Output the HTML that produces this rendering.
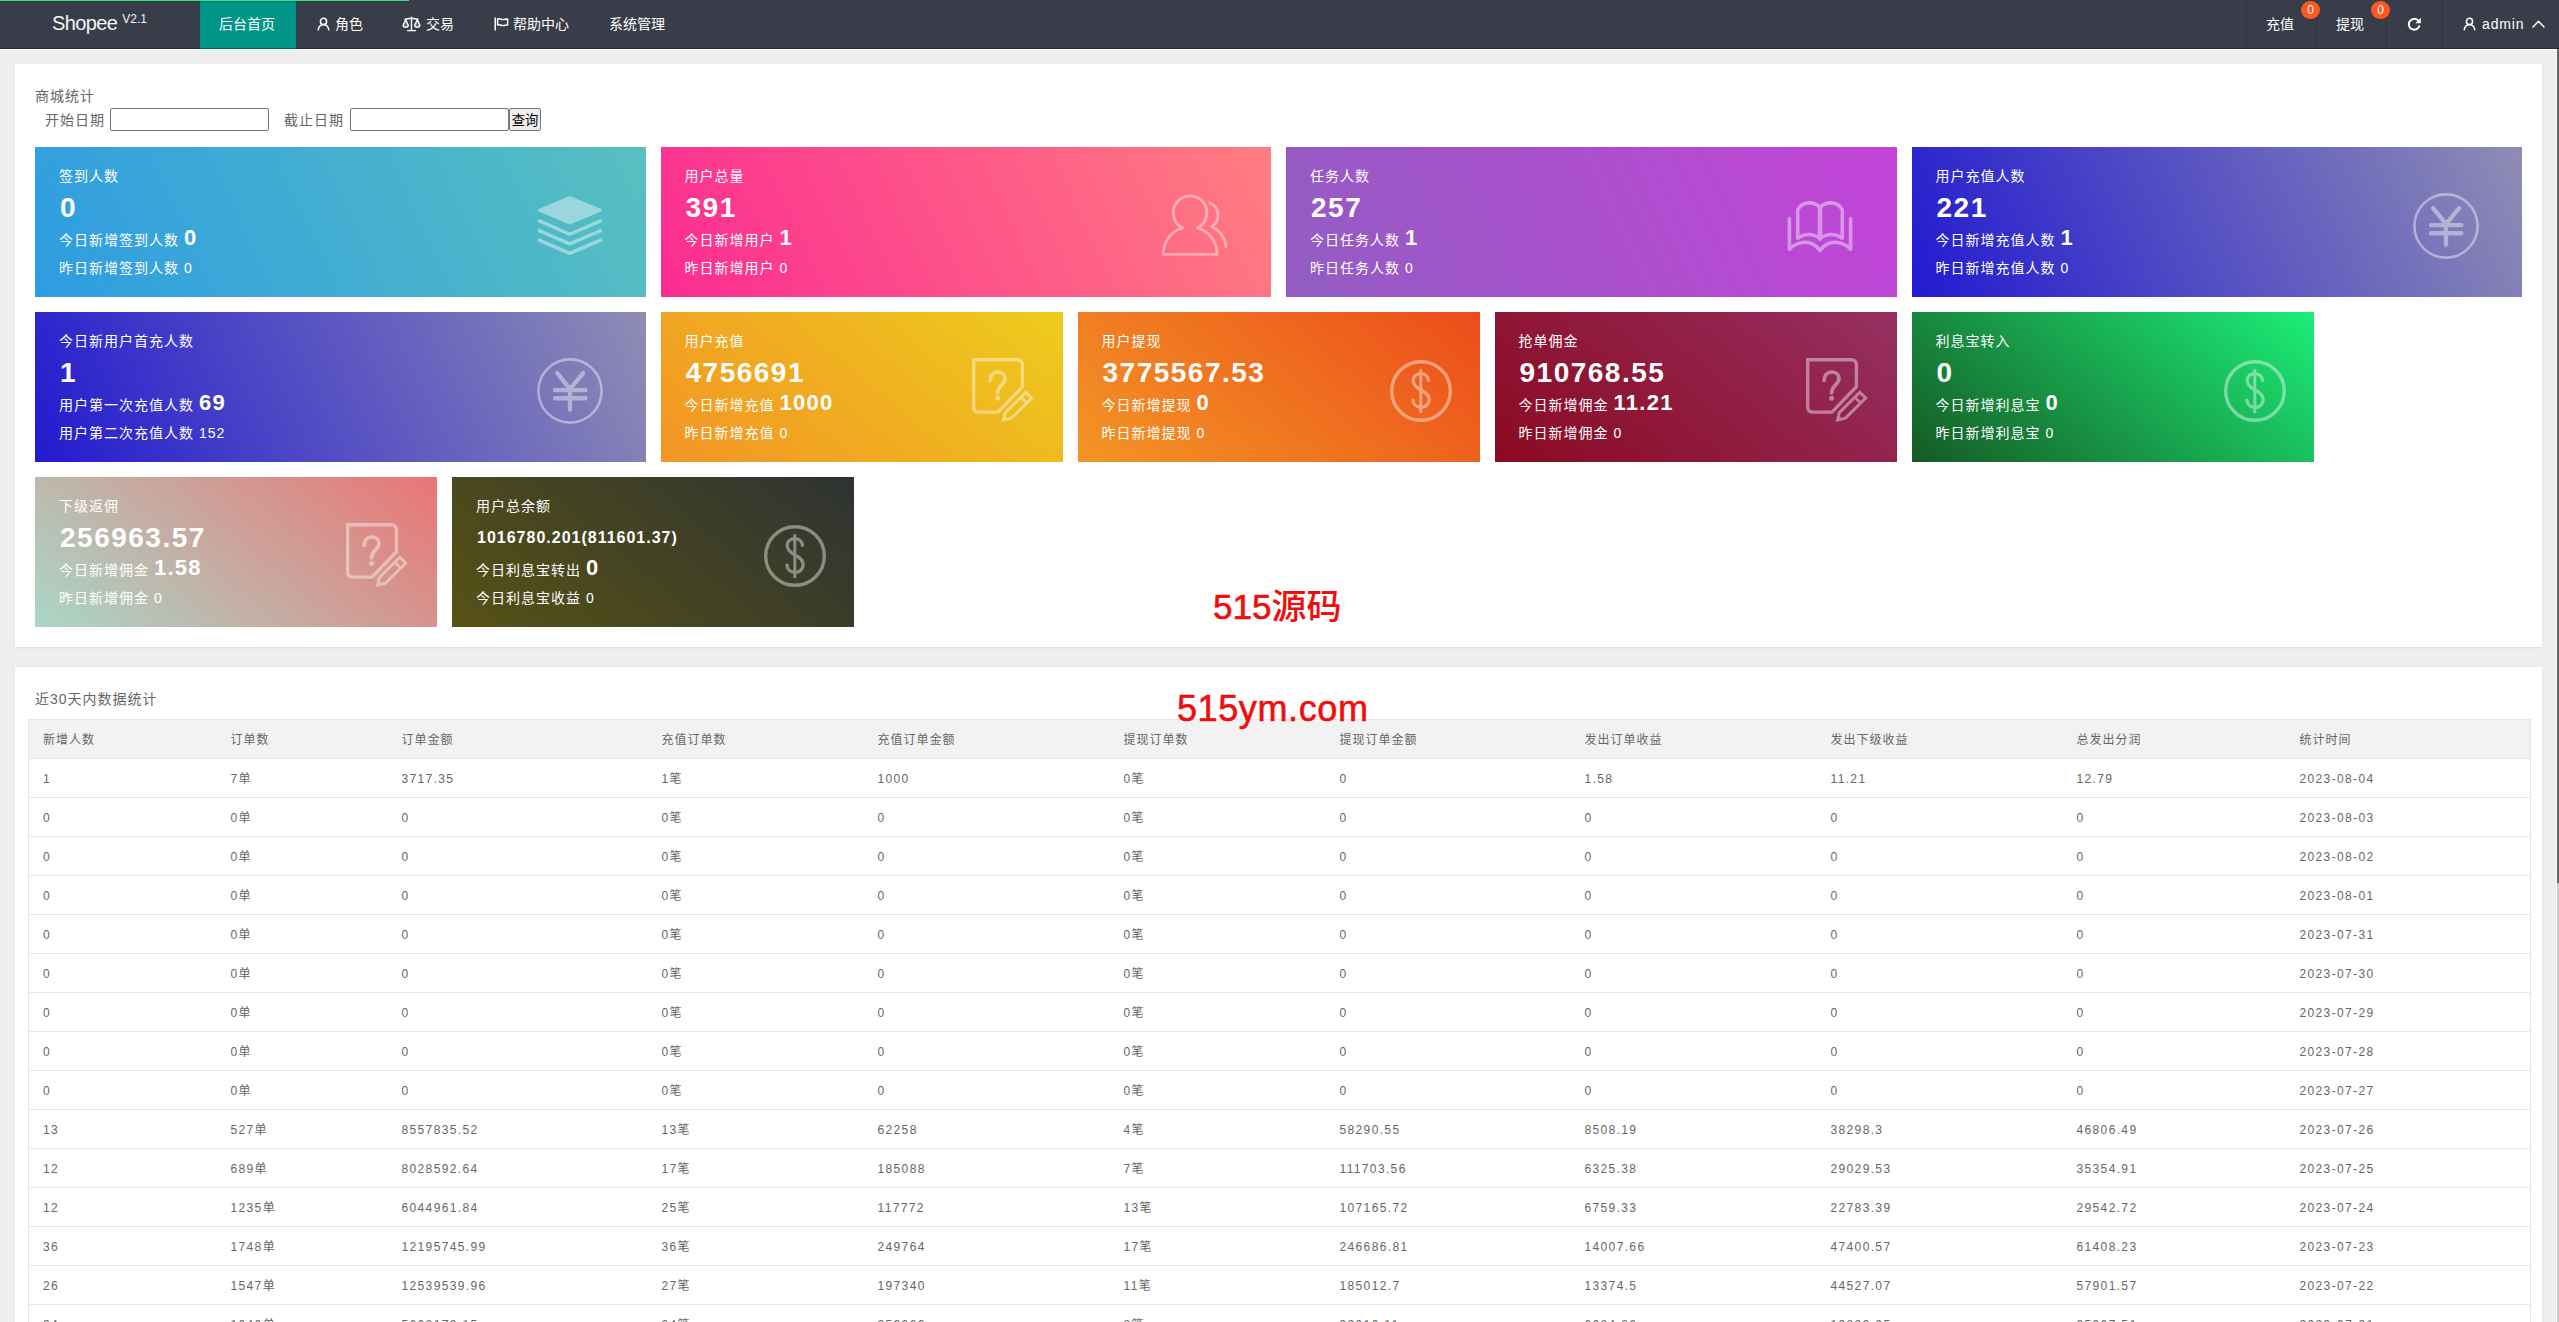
<!DOCTYPE html>
<html lang="zh-CN">
<head>
<meta charset="utf-8">
<title>Shopee V2.1</title>
<style>
*{box-sizing:border-box;margin:0;padding:0}
html,body{width:2559px;height:1322px;overflow:hidden}
body{position:relative;background:#eeeeee;font-family:"Liberation Sans","Noto Sans CJK SC",sans-serif;font-size:14px;color:#666;line-height:24px}
svg{display:block}
/* ---------- header ---------- */
#hd{position:absolute;left:0;top:0;width:2559px;height:49px;background:#393d49;color:#fff}
#hd .shade{position:absolute;left:0;top:48px;width:2559px;height:1px;background:rgba(10,0,20,.3);z-index:3}
#hd .pace{z-index:4;position:absolute;left:0;top:0;width:409px;height:1px;background:#22ee88;box-shadow:0 1px 1px rgba(80,20,60,.35)}
#hd .logo{position:absolute;left:52px;top:10px;font-size:20px;line-height:26px;color:#f4f4f4;white-space:nowrap;letter-spacing:-.6px}
#hd .logo sup{font-size:12px;line-height:12px;position:relative;top:-7px;left:0;vertical-align:baseline;letter-spacing:0}
#hd .tab{position:absolute;top:0;height:49px;line-height:48px;font-size:14px;color:#fff;white-space:nowrap}
#hd .tab.on{background:#009688}
#hd .tab svg{position:absolute}
#hd .sep{position:absolute;top:0;width:1px;height:48px;background:#30343f}
#hd .badge{position:absolute;top:1px;width:19px;height:18px;border-radius:9px;background:#ff5722;color:#fff;font-size:12px;line-height:18px;text-align:center}
/* ---------- iframe edge / scrollbar ---------- */
#edge-t{position:absolute;left:0;top:49px;width:2557px;height:1px;background:#fbfbfb}
#edge-r{position:absolute;left:2556px;top:49px;width:1px;height:1273px;background:#fbfbfb}
#sb{position:absolute;left:2557px;top:49px;width:2px;height:1273px;background:#cccccc}
#sb i{position:absolute;left:0;top:0;width:2px;height:834px;background:#666}
/* ---------- panels ---------- */
.panel{letter-spacing:1px;position:absolute;left:15px;width:2527px;background:#fff;box-shadow:0 1px 2px 0 rgba(0,0,0,.08)}
#p1{top:64px;height:583px}
#p2{top:667px;height:700px}
.ptitle{position:absolute;left:20px;font-size:14px;line-height:24px;color:#666;white-space:nowrap}
.flabel{position:absolute;top:44px;font-size:14px;line-height:24px;color:#666;white-space:nowrap}
.finput{position:absolute;top:44px;height:23px;background:#fff;border:1px solid #767676;border-radius:2px;outline:0;padding:1px 2px;font-family:inherit;font-size:13px}
.fbtn{position:absolute;top:44px;left:494px;width:32px;height:23px;background:#efefef;border:1px solid #767676;border-radius:2px;font-family:inherit;font-size:13.3px;line-height:19px;letter-spacing:0;color:#000;text-align:center;white-space:nowrap;overflow:hidden;padding:2px 0 0;margin:0}
/* ---------- stat cards ---------- */
.card{position:absolute;height:150px;color:#fff;overflow:hidden}
.w3{width:610.5px}.w2{width:402px}
.card div{position:absolute;left:24px;white-space:nowrap;color:#fff}
.card .t{top:17px;font-size:14px;line-height:24px}
.card .n{left:25px;top:42px;font-size:28px;line-height:38px;font-weight:bold;letter-spacing:1.5px}
.card .n.sm{font-size:16px;letter-spacing:1px}
.card .a{top:76px;font-size:14px;line-height:30px}
.card .a b{font-size:22px;font-weight:bold;margin-left:0;letter-spacing:1.3px}
.card .b{top:109px;font-size:14px;line-height:24px}
.card .b span{margin-left:0}
.card svg{position:absolute;opacity:.42}
.g1{background:linear-gradient(65deg,#2e9ce2,#58c0c0)}
.g2{background:linear-gradient(65deg,#fb2c92,#ff7e80)}
.g3{background:linear-gradient(65deg,#925dc3,#c443d8)}
.g4{background:linear-gradient(65deg,#221ad0,#8f8db4)}
.g5{background:linear-gradient(40deg,#f39425,#edcc1d)}
.g6{background:linear-gradient(40deg,#f39525,#ec4c1a)}
.g7{background:linear-gradient(40deg,#8b0921,#963062)}
.g8{background:linear-gradient(40deg,#155a24,#1cee78)}
.g9{background:linear-gradient(40deg,#a9d7c7,#ea7574)}
.g10{background:linear-gradient(40deg,#575215,#2e3332)}
/* ---------- watermark ---------- */
.wm{letter-spacing:0;position:absolute;color:#f00d0d;font-weight:500;white-space:nowrap;font-family:"Liberation Sans","Noto Sans CJK SC",sans-serif}
.ws{-webkit-text-stroke:.6px #f00d0d}
/* ---------- table ---------- */
#tb{position:absolute;left:13px;top:52px;width:2502px;border-collapse:collapse;table-layout:fixed;font-size:12px;letter-spacing:1px;color:#666}
#tb th,#tb td{height:39px;padding:1px 0 0 14px;text-align:left;font-weight:normal;border-top:1px solid #e6e6e6;border-bottom:1px solid #e6e6e6;line-height:20px;white-space:nowrap;overflow:hidden}
#tb th{background:#f2f2f2}
#tb td{padding-top:1px;letter-spacing:1.36px}
#tb tr>:first-child{border-left:1px solid #e6e6e6}
#tb tr>:last-child{border-right:1px solid #e6e6e6}
</style>
</head>
<body>
<div id="hd">
  <div class="pace"></div><div class="shade"></div>
  <div class="logo">Shopee <sup>V2.1</sup></div>
  <div class="tab on" style="left:200px;width:96px;padding-left:19px">后台首页</div>
  <div class="tab" style="left:296px;padding-left:39px">
    <svg style="left:21px;top:17px" width="13" height="14" viewBox="0 0 13 14" fill="none" stroke="#fff" stroke-width="1.5" stroke-linecap="round"><circle cx="6.5" cy="4.4" r="3.1"/><path d="M1.2 12.8c.5-3.2 2.5-5 5.3-5s4.800 1.800 5.300 5"/></svg>角色</div>
  <div class="tab" style="left:382px;padding-left:44px">
    <svg style="left:20px;top:16px" width="19" height="16" viewBox="0 0 19 16" fill="none" stroke="#fff" stroke-width="1.4" stroke-linecap="round" stroke-linejoin="round"><path d="M9.500 1.200v13M5.500 14.600h8M3 3.200c2.200 0 4-.900 6.500-.900s4.300.900 6.500.900"/><path d="M1 9.500l2.700-5.800 2.700 5.800a2.800 2.400 0 0 1-5.400 0zM12.600 9.500l2.700-5.800 2.700 5.800a2.800 2.400 0 0 1-5.400 0z" fill="#fff" fill-opacity=".25"/></svg>交易</div>
  <div class="tab" style="left:474px;padding-left:39px">
    <svg style="left:20px;top:17px" width="15" height="14" viewBox="0 0 15 14" fill="none" stroke="#fff" stroke-width="1.5" stroke-linecap="round" stroke-linejoin="round"><path d="M1.200 1v12M3.600 2c2.200-1 3.800.900 5.800.600 1.500-.200 2.600-.900 4.200-.600v6c-1.600-.300-2.700.400-4.200.600-2 .300-3.600-1.600-5.800-.600z"/></svg>帮助中心</div>
  <div class="tab" style="left:590px;padding-left:19px">系统管理</div>

  <div class="sep" style="left:2246px"></div>
  <div class="sep" style="left:2316px"></div>
  <div class="sep" style="left:2386px"></div>
  <div class="sep" style="left:2442px"></div>
  <div class="tab" style="left:2266px">充值</div>
  <div class="badge" style="left:2301px">0</div>
  <div class="tab" style="left:2336px">提现</div>
  <div class="badge" style="left:2371px">0</div>
  <div class="tab" style="left:2407px;width:16px">
    <svg style="left:0;top:17px" width="15" height="14" viewBox="0 0 15 14" fill="none" stroke="#fff" stroke-width="2" stroke-linecap="butt"><path d="M11.200 3.600a5.400 5.400 0 1 0 1.300 4.900"/><path d="M13.800.8v5.400H8.400z" fill="#fff" stroke="none"/></svg></div>
  <div class="tab" style="left:2463px;padding-left:19px">
    <svg style="left:0;top:17px" width="13" height="14" viewBox="0 0 13 14" fill="none" stroke="#fff" stroke-width="1.5" stroke-linecap="round"><circle cx="6.500" cy="4.400" r="3.100"/><path d="M1.200 12.800c.5-3.200 2.500-5 5.300-5s4.800 1.800 5.300 5"/></svg><span style="letter-spacing:.85px">admin</span>
    <svg style="left:68.500px;top:20px" width="13" height="8" viewBox="0 0 13 8" fill="none" stroke="#fff" stroke-width="1.400" stroke-linecap="round" stroke-linejoin="round"><path d="M1 7l5.500-5.800L12 7"/></svg></div>
</div>
<div id="edge-t"></div><div id="edge-r"></div><div id="sb"><i></i></div>

<!--P1S-->
<div class="panel" id="p1">
<div class="ptitle" style="top:20px">商城统计</div>
<label class="flabel" style="left:30px">开始日期</label><input class="finput" type="text" style="left:95px;width:159px">
<label class="flabel" style="left:269px">截止日期</label><input class="finput" type="text" style="left:335px;width:159px">
<button class="fbtn" type="button">查询</button>
<div class="card w3 g1" style="left:20px;top:83px"><div class="t">签到人数</div><div class="n">0</div><div class="a">今日新增签到人数 <b>0</b></div><div class="b">昨日新增签到人数 <span>0</span></div><svg style="left:501.5px;top:48.8px" width="66" height="60" viewBox="0 0 66 60" fill="none" stroke="#fff" stroke-width="3.4" stroke-linecap="round" stroke-linejoin="round"><path d="M32.800 1.800L63.200 14.300 32.800 26.800 2.600 14.300z" fill="#fff" stroke-width="3.2"/><path d="M2.300 24.900l30.500 13.300 30.800-13.300M2.300 34.600l30.500 13.300 30.800-13.300M2.300 44.100l30.500 13.300 30.800-13.300"/></svg></div>
<div class="card w3 g2" style="left:645.5px;top:83px"><div class="t">用户总量</div><div class="n">391</div><div class="a">今日新增用户 <b>1</b></div><div class="b">昨日新增用户 <span>0</span></div><svg style="left:500.8px;top:47.0px" width="67" height="63" viewBox="0 0 67 63" fill="none" stroke="#fff" stroke-width="2.800" stroke-linecap="round" stroke-linejoin="round"><path d="M21.600 33.800A16.800 16.800 0 1 1 36.600 33.800C48 37.200 55.800 47 56.200 60.300H2.100C2.500 47 10.200 37.200 21.600 33.800z"/><path d="M48.600 8.700C53.600 10.600 57 15.500 57 21.400 57 26 54.600 30 50.400 32.600 59 36 64 44 65 52.800"/></svg></div>
<div class="card w3 g3" style="left:1271px;top:83px"><div class="t">任务人数</div><div class="n">257</div><div class="a">今日任务人数 <b>1</b></div><div class="b">昨日任务人数 <span>0</span></div><svg style="left:501.0px;top:54.1px" width="66" height="52" viewBox="0 0 66 52" fill="none" stroke="#fff" stroke-width="3.600" stroke-linecap="round" stroke-linejoin="round"><path d="M2.400 17.500V48.200C7 43.500 12 41.200 18 41.200 24.500 41.200 29.500 44.500 33 49.600 36.500 44.500 41.500 41.200 48 41.200 54 41.200 59 43.500 63.600 48.200V17.500"/><path d="M10.700 37.300V8.400C13.500 4.200 17.500 1.900 22.100 1.900 26.500 1.900 30.200 3.500 33 6.300 35.800 3.500 39.500 1.900 43.900 1.900 48.500 1.900 52.500 4.200 55.300 8.400V37.300C52 35 48 33.500 44.300 33.500 40 33.500 36 35 33 37.600 30 35 26 33.500 21.700 33.500 18 33.500 14 35 10.700 37.300z"/><path d="M33 6.300V37.600" stroke-width="4.600"/></svg></div>
<div class="card w3 g4" style="left:1896.5px;top:83px"><div class="t">用户充值人数</div><div class="n">221</div><div class="a">今日新增充值人数 <b>1</b></div><div class="b">昨日新增充值人数 <span>0</span></div><svg style="left:500.5px;top:44.5px" width="68" height="68" viewBox="-34 -34 68 68" fill="none" stroke="#fff" stroke-linecap="round" stroke-linejoin="round"><circle cx="0" cy="0" r="31.600" stroke-width="2.600"/><path d="M-12.800 -17.900L0 -1.900 13.100 -17.900M0 -1.900V18.500M-15 -.9H15.300M-15 7.300H15.300" stroke-width="4.400"/></svg></div>
<div class="card w3 g4" style="left:20px;top:248px"><div class="t">今日新用户首充人数</div><div class="n">1</div><div class="a">用户第一次充值人数 <b>69</b></div><div class="b">用户第二次充值人数 <span>152</span></div><svg style="left:500.5px;top:44.5px" width="68" height="68" viewBox="-34 -34 68 68" fill="none" stroke="#fff" stroke-linecap="round" stroke-linejoin="round"><circle cx="0" cy="0" r="31.600" stroke-width="2.600"/><path d="M-12.800 -17.900L0 -1.900 13.100 -17.900M0 -1.900V18.500M-15 -.9H15.300M-15 7.300H15.300" stroke-width="4.400"/></svg></div>
<div class="card w2 g5" style="left:645.5px;top:248px"><div class="t">用户充值</div><div class="n">4756691</div><div class="a">今日新增充值 <b>1000</b></div><div class="b">昨日新增充值 <span>0</span></div><svg style="left:311.0px;top:45.9px" width="64" height="66" viewBox="0 0 64 66" fill="none" stroke="#fff" stroke-width="3.400" stroke-linejoin="miter"><path d="M1.700 1.700H45.600A4.800 4.800 0 0 1 50.400 6.500V28.800L26 54.100H6.500A4.800 4.800 0 0 1 1.700 49.300z"/><path d="M18.200 22.400C18.200 17.200 21.200 14 25.600 14 30 14 33 16.800 33 20.600 33 26.500 25.600 27.500 25.600 34.800" stroke-width="3.700" stroke-linecap="round"/><circle cx="25.600" cy="40.300" r="2.500" fill="#fff" stroke="none"/><path d="M53.800 34.300L59.700 40 39.500 60.100 31.600 61.900 33.300 54.600z" stroke-width="3"/><path d="M31.600 61.900L36 60.800 32.500 57.600z" fill="#fff" stroke="none"/><path d="M48.800 39.200L54.700 45" stroke-width="2.600"/></svg></div>
<div class="card w2 g6" style="left:1062.5px;top:248px"><div class="t">用户提现</div><div class="n">3775567.53</div><div class="a">今日新增提现 <b>0</b></div><div class="b">昨日新增提现 <span>0</span></div><svg style="left:310.4px;top:46.0px" width="66" height="66" viewBox="-33 -33 66 66" fill="none" stroke="#fff"><circle cx="0" cy="0" r="29.300" stroke-width="3.400"/><path d="M-.2 -21.800V22.100" stroke-width="3"/><path d="M7.600 -9.200C7.600 -14 4.500 -17.400 0 -17.400 -4.600 -17.400 -7.900 -14.500 -7.900 -10.500 -7.900 -5.800 -4 -3.200 0 -1 4.600 1.400 8.200 4 8.200 8.500 8.200 13.200 4.600 16.400 0 16.400 -4.600 16.400 -8.200 13.200 -8.200 7.800" stroke-width="3.300"/></svg></div>
<div class="card w2 g7" style="left:1479.5px;top:248px"><div class="t">抢单佣金</div><div class="n">910768.55</div><div class="a">今日新增佣金 <b>11.21</b></div><div class="b">昨日新增佣金 <span>0</span></div><svg style="left:311.0px;top:45.9px" width="64" height="66" viewBox="0 0 64 66" fill="none" stroke="#fff" stroke-width="3.400" stroke-linejoin="miter"><path d="M1.700 1.700H45.600A4.800 4.800 0 0 1 50.400 6.500V28.800L26 54.100H6.500A4.800 4.800 0 0 1 1.700 49.300z"/><path d="M18.200 22.400C18.200 17.200 21.200 14 25.600 14 30 14 33 16.800 33 20.600 33 26.500 25.600 27.500 25.600 34.800" stroke-width="3.700" stroke-linecap="round"/><circle cx="25.600" cy="40.300" r="2.500" fill="#fff" stroke="none"/><path d="M53.800 34.300L59.700 40 39.500 60.100 31.600 61.900 33.300 54.600z" stroke-width="3"/><path d="M31.600 61.900L36 60.800 32.500 57.600z" fill="#fff" stroke="none"/><path d="M48.800 39.200L54.700 45" stroke-width="2.600"/></svg></div>
<div class="card w2 g8" style="left:1896.5px;top:248px"><div class="t">利息宝转入</div><div class="n">0</div><div class="a">今日新增利息宝 <b>0</b></div><div class="b">昨日新增利息宝 <span>0</span></div><svg style="left:310.4px;top:46.0px" width="66" height="66" viewBox="-33 -33 66 66" fill="none" stroke="#fff"><circle cx="0" cy="0" r="29.300" stroke-width="3.400"/><path d="M-.2 -21.800V22.100" stroke-width="3"/><path d="M7.600 -9.200C7.600 -14 4.500 -17.400 0 -17.400 -4.600 -17.400 -7.900 -14.500 -7.900 -10.500 -7.900 -5.800 -4 -3.200 0 -1 4.600 1.400 8.200 4 8.200 8.500 8.200 13.200 4.600 16.400 0 16.400 -4.600 16.400 -8.200 13.200 -8.200 7.800" stroke-width="3.300"/></svg></div>
<div class="card w2 g9" style="left:20px;top:413px"><div class="t">下级返佣</div><div class="n">256963.57</div><div class="a">今日新增佣金 <b>1.58</b></div><div class="b">昨日新增佣金 <span>0</span></div><svg style="left:311.0px;top:45.9px" width="64" height="66" viewBox="0 0 64 66" fill="none" stroke="#fff" stroke-width="3.400" stroke-linejoin="miter"><path d="M1.700 1.700H45.600A4.800 4.800 0 0 1 50.400 6.500V28.800L26 54.100H6.500A4.800 4.800 0 0 1 1.700 49.300z"/><path d="M18.200 22.400C18.200 17.200 21.200 14 25.600 14 30 14 33 16.800 33 20.600 33 26.500 25.600 27.500 25.600 34.800" stroke-width="3.700" stroke-linecap="round"/><circle cx="25.600" cy="40.300" r="2.500" fill="#fff" stroke="none"/><path d="M53.800 34.300L59.700 40 39.500 60.100 31.600 61.900 33.300 54.600z" stroke-width="3"/><path d="M31.600 61.900L36 60.800 32.500 57.600z" fill="#fff" stroke="none"/><path d="M48.800 39.200L54.700 45" stroke-width="2.600"/></svg></div>
<div class="card w2 g10" style="left:437px;top:413px"><div class="t">用户总余额</div><div class="n sm">1016780.201(811601.37)</div><div class="a">今日利息宝转出 <b>0</b></div><div class="b">今日利息宝收益 <span>0</span></div><svg style="left:310.4px;top:46.0px" width="66" height="66" viewBox="-33 -33 66 66" fill="none" stroke="#fff"><circle cx="0" cy="0" r="29.300" stroke-width="3.400"/><path d="M-.2 -21.800V22.100" stroke-width="3"/><path d="M7.600 -9.200C7.600 -14 4.500 -17.400 0 -17.400 -4.600 -17.400 -7.900 -14.500 -7.900 -10.500 -7.900 -5.800 -4 -3.200 0 -1 4.600 1.400 8.200 4 8.200 8.500 8.200 13.200 4.600 16.400 0 16.400 -4.600 16.400 -8.200 13.200 -8.200 7.800" stroke-width="3.300"/></svg></div>
<div class="wm" style="left:1198px;top:519px;font-size:35px;line-height:48px"><span class="ws">515</span>源码</div>
</div>
<!--P1E-->
<!--P2S-->
<div class="panel" id="p2">
<div class="ptitle" style="top:20px">近30天内数据统计</div>
<div class="wm" style="left:1162px;top:14px;font-size:36px;line-height:56px;letter-spacing:.6px;z-index:2"><span class="ws">515ym.com</span></div>
<table id="tb"><colgroup><col style="width:188px"><col style="width:171px"><col style="width:260px"><col style="width:216px"><col style="width:246px"><col style="width:216px"><col style="width:245px"><col style="width:246px"><col style="width:246px"><col style="width:223px"><col style="width:245px"></colgroup>
<thead><tr><th>新增人数</th><th>订单数</th><th>订单金额</th><th>充值订单数</th><th>充值订单金额</th><th>提现订单数</th><th>提现订单金额</th><th>发出订单收益</th><th>发出下级收益</th><th>总发出分润</th><th>统计时间</th></tr></thead>
<tbody>
<tr><td>1</td><td>7单</td><td>3717.35</td><td>1笔</td><td>1000</td><td>0笔</td><td>0</td><td>1.58</td><td>11.21</td><td>12.79</td><td>2023-08-04</td></tr>
<tr><td>0</td><td>0单</td><td>0</td><td>0笔</td><td>0</td><td>0笔</td><td>0</td><td>0</td><td>0</td><td>0</td><td>2023-08-03</td></tr>
<tr><td>0</td><td>0单</td><td>0</td><td>0笔</td><td>0</td><td>0笔</td><td>0</td><td>0</td><td>0</td><td>0</td><td>2023-08-02</td></tr>
<tr><td>0</td><td>0单</td><td>0</td><td>0笔</td><td>0</td><td>0笔</td><td>0</td><td>0</td><td>0</td><td>0</td><td>2023-08-01</td></tr>
<tr><td>0</td><td>0单</td><td>0</td><td>0笔</td><td>0</td><td>0笔</td><td>0</td><td>0</td><td>0</td><td>0</td><td>2023-07-31</td></tr>
<tr><td>0</td><td>0单</td><td>0</td><td>0笔</td><td>0</td><td>0笔</td><td>0</td><td>0</td><td>0</td><td>0</td><td>2023-07-30</td></tr>
<tr><td>0</td><td>0单</td><td>0</td><td>0笔</td><td>0</td><td>0笔</td><td>0</td><td>0</td><td>0</td><td>0</td><td>2023-07-29</td></tr>
<tr><td>0</td><td>0单</td><td>0</td><td>0笔</td><td>0</td><td>0笔</td><td>0</td><td>0</td><td>0</td><td>0</td><td>2023-07-28</td></tr>
<tr><td>0</td><td>0单</td><td>0</td><td>0笔</td><td>0</td><td>0笔</td><td>0</td><td>0</td><td>0</td><td>0</td><td>2023-07-27</td></tr>
<tr><td>13</td><td>527单</td><td>8557835.52</td><td>13笔</td><td>62258</td><td>4笔</td><td>58290.55</td><td>8508.19</td><td>38298.3</td><td>46806.49</td><td>2023-07-26</td></tr>
<tr><td>12</td><td>689单</td><td>8028592.64</td><td>17笔</td><td>185088</td><td>7笔</td><td>111703.56</td><td>6325.38</td><td>29029.53</td><td>35354.91</td><td>2023-07-25</td></tr>
<tr><td>12</td><td>1235单</td><td>6044961.84</td><td>25笔</td><td>117772</td><td>13笔</td><td>107165.72</td><td>6759.33</td><td>22783.39</td><td>29542.72</td><td>2023-07-24</td></tr>
<tr><td>36</td><td>1748单</td><td>12195745.99</td><td>36笔</td><td>249764</td><td>17笔</td><td>246686.81</td><td>14007.66</td><td>47400.57</td><td>61408.23</td><td>2023-07-23</td></tr>
<tr><td>26</td><td>1547单</td><td>12539539.96</td><td>27笔</td><td>197340</td><td>11笔</td><td>185012.7</td><td>13374.5</td><td>44527.07</td><td>57901.57</td><td>2023-07-22</td></tr>
<tr><td>24</td><td>1040单</td><td>5608172.15</td><td>24笔</td><td>252000</td><td>8笔</td><td>92010.11</td><td>6084.26</td><td>19823.65</td><td>25907.51</td><td>2023-07-21</td></tr>
</tbody></table>
</div>
<!--P2E-->
</body>
</html>
